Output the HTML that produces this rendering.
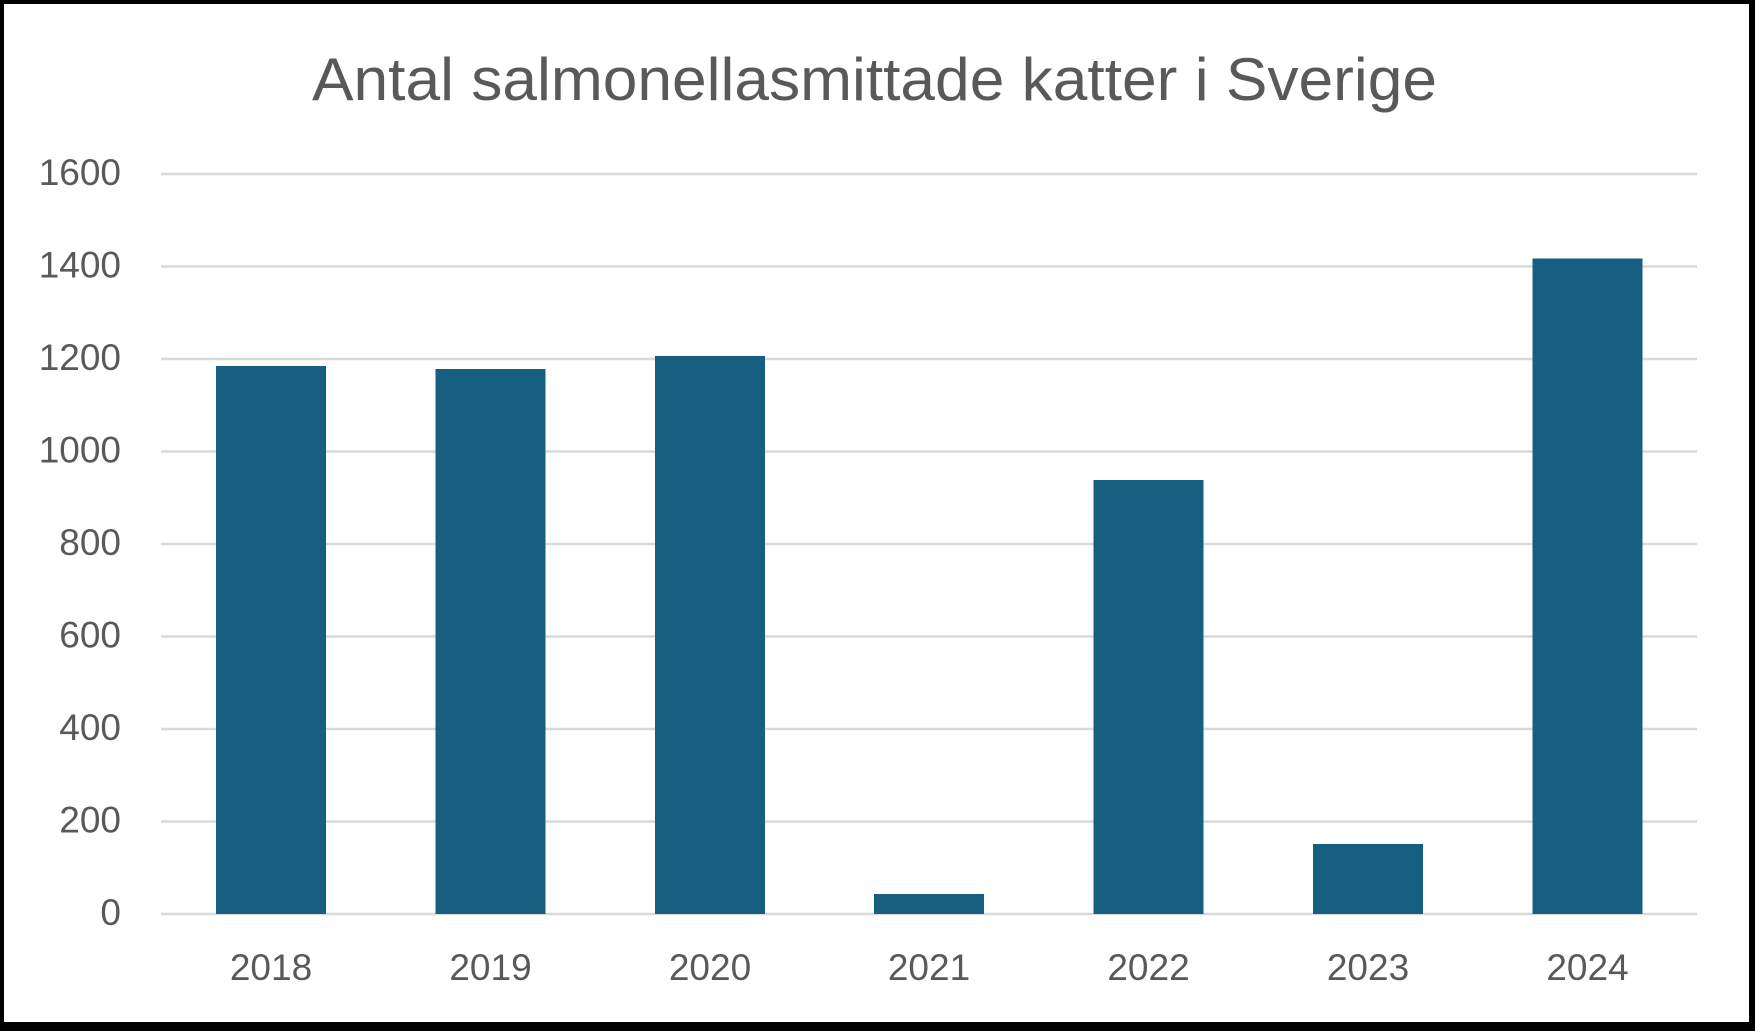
<!DOCTYPE html>
<html><head><style>html,body{margin:0;padding:0;background:#000}svg{display:block}</style></head>
<body>
<svg width="1755" height="1031" xmlns="http://www.w3.org/2000/svg" font-family="Liberation Sans, sans-serif">
<rect x="0" y="0" width="1755" height="1031" fill="#000"/>
<rect x="4" y="4" width="1745" height="1018" fill="#fff"/>
<text x="312" y="100" font-size="60" fill="#595959" textLength="1125" lengthAdjust="spacingAndGlyphs">Antal salmonellasmittade katter i Sverige</text>
<g stroke="#d9d9d9" stroke-width="2.5">
<line x1="161" x2="1697" y1="174" y2="174"/>
<line x1="161" x2="1697" y1="266.5" y2="266.5"/>
<line x1="161" x2="1697" y1="359" y2="359"/>
<line x1="161" x2="1697" y1="451.5" y2="451.5"/>
<line x1="161" x2="1697" y1="544" y2="544"/>
<line x1="161" x2="1697" y1="636.5" y2="636.5"/>
<line x1="161" x2="1697" y1="729" y2="729"/>
<line x1="161" x2="1697" y1="821.5" y2="821.5"/>
<line x1="161" x2="1697" y1="914" y2="914"/>
</g>
<g fill="#595959" font-size="37" text-anchor="end">
<text x="121" y="185">1600</text>
<text x="121" y="277.5">1400</text>
<text x="121" y="370">1200</text>
<text x="121" y="462.5">1000</text>
<text x="121" y="555">800</text>
<text x="121" y="647.5">600</text>
<text x="121" y="740">400</text>
<text x="121" y="832.5">200</text>
<text x="121" y="925">0</text>
</g>
<g fill="#175f80">
<rect x="216" y="366" width="110" height="548"/>
<rect x="435.5" y="369" width="110" height="545"/>
<rect x="655" y="356" width="110" height="558"/>
<rect x="874" y="894" width="110" height="20"/>
<rect x="1093.5" y="480" width="110" height="434"/>
<rect x="1313" y="844" width="110" height="70"/>
<rect x="1532.5" y="258.5" width="110" height="655.5"/>
</g>
<g fill="#595959" font-size="37" text-anchor="middle">
<text x="271" y="980">2018</text>
<text x="490.5" y="980">2019</text>
<text x="710" y="980">2020</text>
<text x="929" y="980">2021</text>
<text x="1148.5" y="980">2022</text>
<text x="1368" y="980">2023</text>
<text x="1587.5" y="980">2024</text>
</g>
</svg>
</body></html>
